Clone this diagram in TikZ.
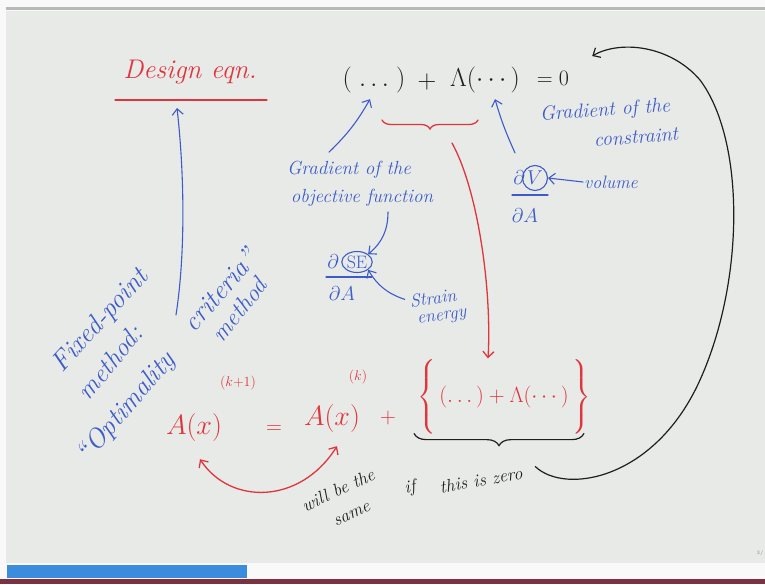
\RequirePackage{fix-cm}
\documentclass[tikz,border=0pt]{standalone}
\usepackage{amsmath}
\usetikzlibrary{arrows.meta,decorations.pathreplacing,shapes.geometric,positioning}

\definecolor{slidebg}{HTML}{E8EAE7}
\definecolor{inkred}{HTML}{E0353D}
\definecolor{inkblue}{HTML}{3D5CC9}
\definecolor{inkblack}{HTML}{1E1E1E}
\definecolor{barblue}{HTML}{3B8CDC}
\definecolor{barmaroon}{HTML}{7A3142}

\begin{document}
\begin{tikzpicture}[x=1pt,y=-1pt,
  >={Straight Barb[length=6pt,width=11pt]},
  hand/.style={font=\fontsize{#1}{#1}\selectfont\itshape,inner sep=1pt},
  sym/.style={font=\fontsize{#1}{#1}\selectfont,inner sep=1pt},
  redink/.style={text=inkred},
  blueink/.style={text=inkblue},
  blackink/.style={text=inkblack},
  redpen/.style={draw=inkred,line width=1.3pt,line cap=round},
  bluepen/.style={draw=inkblue,line width=1.1pt,line cap=round},
  blackpen/.style={draw=inkblack,line width=1.2pt,line cap=round},
  ring/.style={draw=inkblue,line width=1.1pt,ellipse,inner sep=0.5pt}]
  % slide
  \fill[white!95!gray] (0,0) rectangle (765,584);
  \fill[slidebg] (6,11) rectangle (765,563);
  \fill[gray!55] (6,7) rectangle (765,10);
  \fill[barblue] (7,565) rectangle (247,578);
  \fill[barmaroon] (0,579) rectangle (765,584);
  \node[sym=5,text=gray] (pageno) at (760,553) {3/};

  % design equation
  \node[hand=27,redink] (design) at (190,72) {Design eqn.};
  \draw[redpen] (115,100) -- (267,100);
  \node[sym=26,blackink] (objterm) at (374,80) {$(\;\dots\;)$};
  \node[sym=26,blackink] (plusterm) at (427,82) {$+$};
  \node[sym=26,blackink] (conterm) at (485,80) {$\Lambda(\cdots)$};
  \node[sym=22,blackink] (eqzero) at (553,78) {$=0$};

  % gradients
  \node[hand=19,blueink] (gradobjA) at (349,170) {Gradient of the};
  \node[hand=19,blueink] (gradobjB) at (362,198) {objective function};
  \node[hand=20,blueink,rotate=4] (gradconA) at (605,111) {Gradient of the};
  \node[hand=20,blueink,rotate=4] (gradconB) at (636,137) {constraint};
  \node[hand=18,blueink] (volume) at (611,182) {volume};
  \node[hand=18,blueink,rotate=8] (strainA) at (433,298) {Strain};
  \node[hand=18,blueink,rotate=8] (strainB) at (442,318) {energy};

  \node[sym=20,blueink] (dvd) at (519,178) {$\partial$};
  \node[sym=20,blueink,ring,circle,minimum size=25pt] (vcirc) at (535,178) {$V$};
  \draw[bluepen] (512,195) -- (548,195);
  \node[sym=20,blueink] (dva) at (525,216) {$\partial A$};
  \node[sym=20,blueink] (dsed) at (333,262) {$\partial$};
  \node[sym=18,blueink,ring,minimum width=30pt,minimum height=21pt] (secirc) at (357,262) {SE};
  \draw[bluepen] (326,277) -- (372,277);
  \node[sym=20,blueink] (dsea) at (342,294) {$\partial A$};

  % fixed point / OC
  \node[hand=27,blueink,rotate=48,anchor=base west] (fixedA) at (62,374) {Fixed-point};
  \node[hand=26,blueink,rotate=50,anchor=base west] (fixedB) at (88,402) {method:};
  \node[hand=27,blueink,rotate=49,anchor=base west] (optA) at (87,464) {``Optimality};
  \node[hand=27,blueink,rotate=49,anchor=base west] (optC) at (194,334) {criteria''};
  \node[hand=24,blueink,rotate=51,anchor=base west] (optB) at (222,344) {method};
  \coordinate (fpstart) at (176,315);
  \coordinate (fpend) at (177,108);

  % update formula
  \node[sym=28,redink] (Aone) at (194,427) {$A(x)$};
  \node[sym=14,redink] (supone) at (238,383) {$(k{+}1)$};
  \node[sym=22,redink] (eqsign) at (274,430) {$=$};
  \node[sym=28,redink] (Atwo) at (332,418) {$A(x)$};
  \node[sym=14,redink] (suptwo) at (358,377) {$(k)$};
  \node[sym=22,redink] (plustwo) at (388,418) {$+$};
  \node[sym=22,redink] (braceterm) at (504,398)
    {$\left\{\vphantom{\rule[-34pt]{0pt}{74pt}}\,(\dots)+\Lambda(\cdots)\,\right\}$};
  \coordinate (bracetip) at (452,143);

  \node[hand=18,blackink,rotate=25] (willA) at (338,490) {will be the};
  \node[hand=18,blackink,rotate=25] (willB) at (352,515) {same};
  \node[hand=18,blackink,rotate=10] (iftext) at (410,488) {if};
  \node[hand=18,blackink,rotate=10] (zerotext) at (481,480) {this is zero};

  % connectors
  \draw[bluepen,->] (fpstart) .. controls (186,250) and (184,170) .. (fpend);
  \draw[bluepen,->] ([shift={(-20,-8)}]gradobjA.north) to[bend right=8] ([shift={(-4,5)}]objterm.south);
  \draw[bluepen,->] ([shift={(-4,-17)}]dvd.north) to[bend left=4] ([shift={(10,5)}]conterm.south);
  \draw[bluepen,->] ([shift={(26,4)}]gradobjB.south) to[bend left=25] (secirc.north east);
  \draw[bluepen,->] ([shift={(-4,-2)}]strainA.west) to[bend left=20] (secirc.south east);
  \draw[bluepen,->] (volume.west) -- (vcirc.east);

  \draw[redpen,decorate,decoration={brace,mirror,amplitude=9pt}] (382,120) -- (478,120);
  \draw[redpen,->] (bracetip) .. controls (478,190) and (492,290) .. ([xshift=-16]braceterm.north);
  \draw[redpen,<->] ([shift={(6,17)}]Aone.south) .. controls (230,505) and (300,505) .. ([shift={(5,13)}]Atwo.south);

  \draw[blackpen,decorate,decoration={brace,mirror,amplitude=12pt}] ([shift={(-2,-4)}]braceterm.south west) -- ([shift={(-8,-4)}]braceterm.south east);
  \draw[blackpen,->] ([shift={(12,-6)}]zerotext.east) .. controls (565,495) and (655,480) .. (700,380)
    .. controls (745,280) and (745,140) .. (700,80)
    .. controls (670,45) and (620,40) .. ([shift={(22,-22)}]eqzero.east);
\end{tikzpicture}
\end{document}
